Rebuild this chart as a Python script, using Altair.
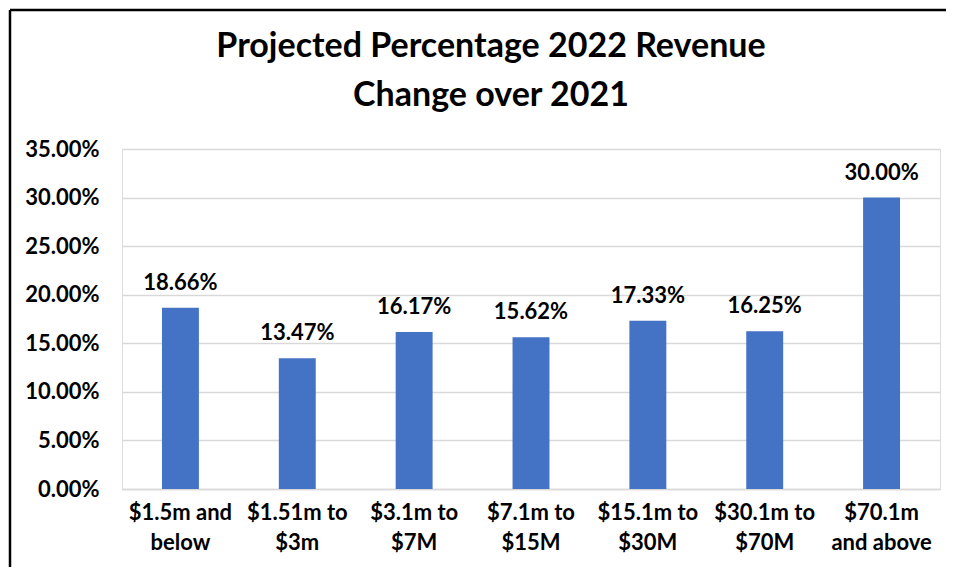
import altair as alt
import pandas as pd

categories = [
    "$1.5m and\nbelow",
    "$1.51m to\n$3m",
    "$3.1m to\n$7M",
    "$7.1m to\n$15M",
    "$15.1m to\n$30M",
    "$30.1m to\n$70M",
    "$70.1m\nand above",
]
values_pct = [18.66, 13.47, 16.17, 15.62, 17.33, 16.25, 30.00]
y_ticks_pct = [0, 5, 10, 15, 20, 25, 30, 35]

title_lines = ["Projected Percentage 2022 Revenue", "Change over 2021"]

FONT = "Lato"
BAR = "#4472C4"
GRID = "#D9D9D9"

df = pd.DataFrame({"cat": categories, "val": [v / 100 for v in values_pct]})

x_enc = alt.X(
    "cat:N",
    sort=categories,
    title=None,
    scale=alt.Scale(paddingInner=0.684, paddingOuter=0.342),
    axis=alt.Axis(
        labelAngle=0,
        labelExpr="split(datum.label, '\\n')",
        labelFont=FONT,
        labelFontWeight="bold",
        labelFontSize=22,
        labelColor="#000000",
        labelLineHeight=30,
        labelPadding=13,
        labelBaseline="top",
        ticks=False,
        domain=True,
        domainColor=GRID,
        domainWidth=1.5,
        grid=False,
    ),
)
y_enc = alt.Y(
    "val:Q",
    title=None,
    scale=alt.Scale(domain=[0, 0.35], nice=False),
    axis=alt.Axis(
        values=[v / 100 for v in y_ticks_pct],
        format=".2%",
        labelFont=FONT,
        labelFontWeight="bold",
        labelFontSize=22,
        labelColor="#000000",
        labelPadding=23,
        ticks=False,
        domain=False,
        grid=True,
        gridColor=GRID,
        gridWidth=1.5,
    ),
)

bars = alt.Chart(df).mark_bar(color=BAR).encode(x=x_enc, y=y_enc)

labels = alt.Chart(df).mark_text(
    font=FONT,
    fontWeight="bold",
    fontSize=22,
    color="#000000",
    baseline="alphabetic",
    dy=-18,
).encode(
    x=alt.X("cat:N", sort=categories),
    y=alt.Y("val:Q"),
    text=alt.Text("val:Q", format=".2%"),
)

border_df = pd.DataFrame({"a": [0]})
left_line = alt.Chart(border_df).mark_rule(
    color="#000000", strokeWidth=2.5, clip=False
).encode(x=alt.value(-112), y=alt.value(-139), y2=alt.value(420))
top_line = alt.Chart(border_df).mark_rule(
    color="#000000", strokeWidth=2.5, clip=False
).encode(x=alt.value(-112), x2=alt.value(824), y=alt.value(-139))

chart = (
    alt.layer(left_line, top_line, bars, labels)
    .properties(
        width=818,
        height=340,
        autosize=alt.AutoSizeParams(type="none"),
        padding={"left": 114, "top": 141, "right": 6, "bottom": 78},
        title=alt.Title(
            title_lines,
            font=FONT,
            fontSize=34,
            fontWeight="bold",
            color="#000000",
            anchor="middle",
            frame="group",
            dx=-40,
            lineHeight=49,
            offset=-104,
        ),
    )
    .configure_view(stroke=None)
    .configure(background="#FFFFFF")
)

chart.save("out.html", embed_options={"renderer": "svg", "actions": False})
